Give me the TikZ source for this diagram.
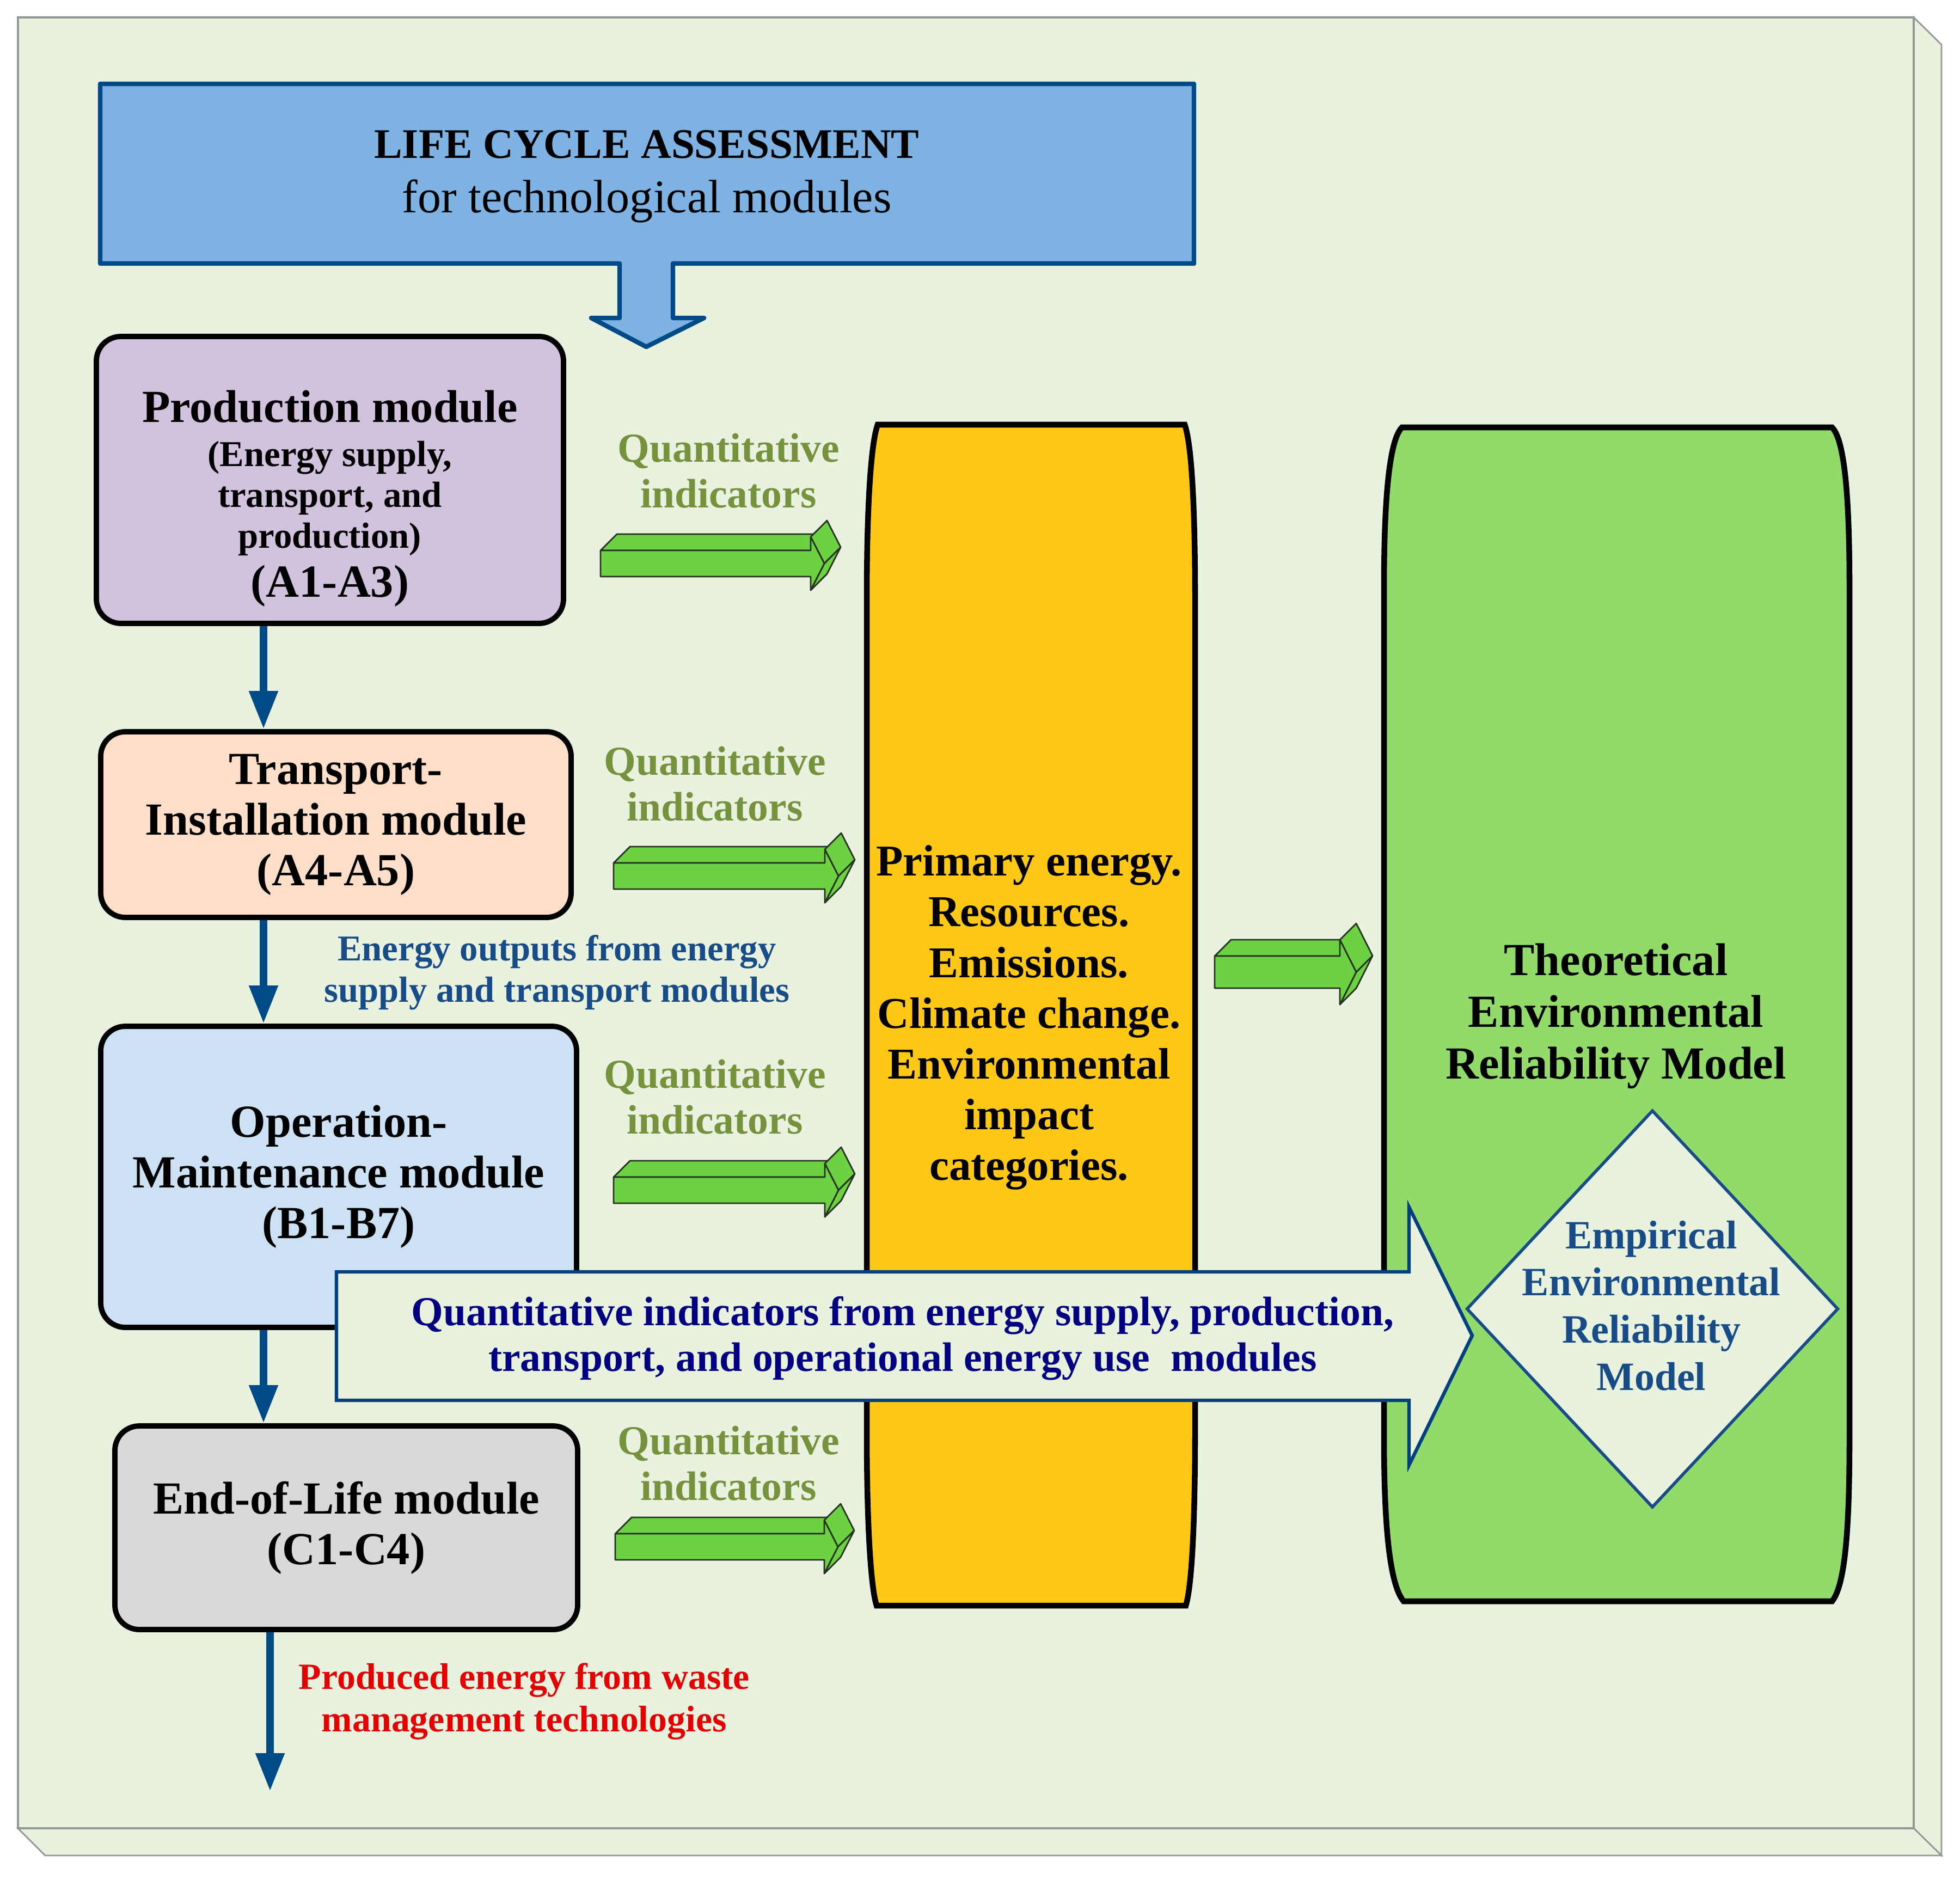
\documentclass[tikz,border=0pt]{standalone}
\usepackage{fontspec}
\setmainfont{Liberation Serif}
\usetikzlibrary{arrows.meta,shapes.geometric}

\definecolor{bgfill}{RGB}{233,241,223}
\definecolor{framegray}{RGB}{150,150,150}
\definecolor{lcafill}{RGB}{125,178,227}
\definecolor{lcadraw}{RGB}{0,74,135}
\definecolor{prodfill}{RGB}{209,194,221}
\definecolor{transfill}{RGB}{252,222,201}
\definecolor{opfill}{RGB}{205,225,245}
\definecolor{eolfill}{RGB}{217,217,217}
\definecolor{flowblue}{RGB}{0,74,135}
\definecolor{qgreen}{RGB}{118,146,60}
\definecolor{arrgreen}{RGB}{108,210,66}
\definecolor{arrline}{RGB}{40,50,35}
\definecolor{yellowfill}{RGB}{255,200,23}
\definecolor{greenfill}{RGB}{146,218,106}
\definecolor{textblue}{RGB}{24,76,135}
\definecolor{bigblue}{RGB}{0,64,128}
\definecolor{navytext}{RGB}{0,0,128}
\definecolor{wastered}{RGB}{228,0,0}

\tikzset{
  modbox/.style={draw=black, line width=2.8pt, rounded corners=0.45cm, inner sep=0pt,
    align=center, font=\fontsize{24}{26.5}\selectfont\bfseries},
  flow/.style={draw=flowblue, line width=4pt, -{Triangle[length=0.7cm,width=0.5cm]}},
  qlabel/.style={text=qgreen, align=center, font=\fontsize{21.5}{23.9}\selectfont\bfseries},
  qface/.style={fill=arrgreen, draw=arrline, line width=0.8pt, line join=round},
}

% 3D block arrow: x, y (front top left), length, height, head
\newcommand{\qarrow}[5]{%
  \begin{scope}[shift={(#1,#2)}]
    \path[qface] (0,0) -- (#3,0) -- ++(0.3,0.3) -- (0.3,0.3) -- cycle;
    \path[qface] (#3,#5) -- ({#3+#5},{-#4/2}) -- ++(0.3,0.3) -- ({#3+0.3},{#5+0.3}) -- cycle;
    \path[qface] ({#3+#5},{-#4/2}) -- (#3,{-#4-#5}) -- ++(0.3,0.3) -- ({#3+#5+0.3},{-#4/2+0.3}) -- cycle;
    \path[qface] (0,0) -- (#3,0) -- (#3,#5) -- ({#3+#5},{-#4/2}) -- (#3,{-#4-#5}) -- (#3,-#4) -- (0,-#4) -- cycle;
  \end{scope}}

\begin{document}
\begin{tikzpicture}
\useasboundingbox (0,0) rectangle (36,-34.52);

% frame
\draw[framegray, fill=bgfill, line width=0.8pt] (35.15,-0.32) -- (35.66,-0.82) -- (35.66,-34.08) -- (35.15,-33.58) -- cycle;
\draw[framegray, fill=bgfill, line width=0.8pt] (0.33,-33.58) -- (0.83,-34.08) -- (35.66,-34.08) -- (35.15,-33.58) -- cycle;
\draw[framegray, fill=bgfill, line width=1pt] (0.33,-0.32) rectangle (35.15,-33.58);

% life cycle assessment
\draw[lcadraw, fill=lcafill, line width=2.4pt, line join=round] (1.84,-1.54) -- (21.93,-1.54) -- (21.93,-4.84) -- (12.36,-4.84)
  -- (12.36,-5.84) -- (12.93,-5.84) -- (11.87,-6.37) -- (10.86,-5.84) -- (11.38,-5.84) -- (11.38,-4.84)
  -- (1.84,-4.84) -- cycle;
\node[align=center, font=\fontsize{24.5}{25.9}\selectfont] (lcatext) at (11.88,-3.24)
  {{\fontsize{22}{25.9}\selectfont\bfseries LIFE CYCLE ASSESSMENT}\\[2.5pt]
   for technological modules};

% indicator columns
\draw[black, fill=yellowfill, line width=3pt] (16.12,-7.80) -- (21.76,-7.80)
  .. controls (21.90,-8.2) and (21.95,-9.5) .. (21.95,-11.0) -- (21.95,-26.3)
  .. controls (21.95,-27.8) and (21.90,-29.1) .. (21.78,-29.49) -- (16.10,-29.49)
  .. controls (15.98,-29.1) and (15.92,-27.8) .. (15.92,-26.3) -- (15.92,-11.0)
  .. controls (15.92,-9.5) and (15.98,-8.2) .. (16.12,-7.80) -- cycle;
\draw[black, fill=greenfill, line width=3pt] (25.75,-7.85) -- (33.65,-7.85)
  .. controls (33.90,-8.1) and (33.97,-9.3) .. (33.97,-10.8) -- (33.97,-26.4)
  .. controls (33.97,-28.0) and (33.90,-29.1) .. (33.65,-29.41) -- (25.78,-29.41)
  .. controls (25.52,-29.1) and (25.42,-28.0) .. (25.42,-26.4) -- (25.42,-10.8)
  .. controls (25.42,-9.3) and (25.50,-8.1) .. (25.75,-7.85) -- cycle;

% modules
\node[modbox, fill=prodfill, minimum width=8.58cm, minimum height=5.27cm] (prod) at (6.06,-8.815) {};
\node[align=center, font=\fontsize{19}{21.3}\selectfont\bfseries] (prodtext) at ([yshift=-0.34cm]prod.center)
  {{\fontsize{24}{26.5}\selectfont Production module}\\[2pt]
   (Energy supply,\\ transport, and\\ production)\\[4.3pt]
   {\fontsize{24}{26.5}\selectfont (A1-A3)}};
\node[modbox, fill=transfill, minimum width=8.64cm, minimum height=3.41cm] (trans) at (6.17,-15.145)
  {Transport-\\ Installation module\\ (A4-A5)};
\node[modbox, fill=opfill, minimum width=8.74cm, minimum height=5.53cm] (op) at (6.22,-21.615)
  {Operation-\\ Maintenance module\\ (B1-B7)};
\node[modbox, fill=eolfill, minimum width=8.50cm, minimum height=3.74cm] (eol) at (6.36,-28.06)
  {End-of-Life module\\ (C1-C4)};

\coordinate (axisA) at (4.84,0);
\coordinate (wasteend) at (4.96,-32.90);
\draw[flow] (prod.south -| axisA) -- (trans.north -| axisA);
\draw[flow] (trans.south -| axisA) -- (op.north -| axisA);
\draw[flow] (op.south -| axisA) -- (eol.north -| axisA);
\draw[flow] (eol.south -| wasteend) -- (wasteend);

% green arrows
\qarrow{11.03}{-10.11}{3.86}{0.48}{0.25}
\qarrow{11.27}{-15.85}{3.88}{0.48}{0.25}
\qarrow{11.27}{-21.62}{3.88}{0.48}{0.25}
\qarrow{11.30}{-28.17}{3.84}{0.48}{0.25}
\qarrow{22.31}{-17.56}{2.30}{0.59}{0.30}

\node[qlabel] (qi1) at (13.38,-8.65) {Quantitative\\ indicators};
\node[qlabel] (qi2) at (13.13,-14.40) {Quantitative\\ indicators};
\node[qlabel] (qi3) at (13.13,-20.15) {Quantitative\\ indicators};
\node[qlabel] (qi4) at (13.38,-26.88) {Quantitative\\ indicators};

\node[text=textblue, align=center, font=\fontsize{19}{21.6}\selectfont\bfseries] (outtext) at (10.23,-17.86)
  {Energy outputs from energy\\ supply and transport modules};
\node[text=wastered, align=center, font=\fontsize{19.3}{22}\selectfont\bfseries] (wastetext) at (9.63,-31.25)
  {Produced energy from waste\\ management technologies};

\node[align=center, font=\fontsize{23}{26.5}\selectfont\bfseries] (impact) at (18.9,-18.69)
  {Primary energy.\\ Resources.\\ Emissions.\\ Climate change.\\ Environmental\\ impact\\ categories.};
\node[align=center, font=\fontsize{24}{27}\selectfont\bfseries] (theory) at (29.68,-18.66)
  {Theoretical\\ Environmental\\ Reliability Model};

% quantitative indicators arrow
\draw[bigblue, fill=bgfill, line width=1.8pt, line join=miter] (6.18,-23.36) -- (25.88,-23.36) -- (25.88,-22.17)
  -- (27.04,-24.53) -- (25.88,-26.91) -- (25.88,-25.72) -- (6.18,-25.72) -- cycle;
\node[text=navytext, align=center, font=\fontsize{21.5}{23.9}\selectfont\bfseries] (bigtext) at (16.58,-24.58)
  {Quantitative indicators from energy supply, production,\\ transport, and operational energy use\ \ modules};

% empirical model
\node[diamond, draw=textblue, fill=bgfill, line width=1.6pt, inner sep=0pt,
  minimum width=6.83cm, minimum height=7.30cm] (empdiam) at (30.35,-24.04) {};
\node[text=textblue, align=center, font=\fontsize{21}{24.7}\selectfont\bfseries] (emptext) at (30.33,-23.98)
  {Empirical\\ Environmental\\ Reliability\\ Model};
\end{tikzpicture}
\end{document}
